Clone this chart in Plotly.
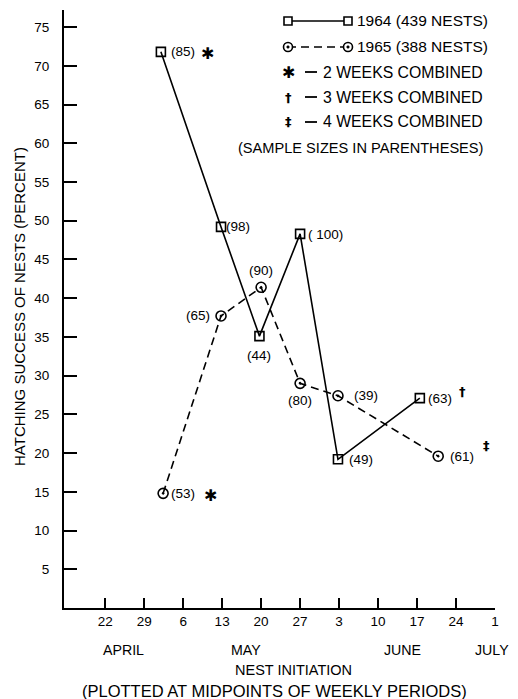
import plotly.graph_objects as go

# ---------------- data ----------------
tick_days = [22, 29, 36, 43, 50, 57, 64, 71, 78, 85, 92]   # days counted from 1 April
tick_labels = ["22", "29", "6", "13", "20", "27", "3", "10", "17", "24", "1"]
month_names = ["APRIL", "MAY", "JUNE", "JULY"]
month_days = [25.3, 47.3, 75.3, 91.4]
y_ticks = [5, 10, 15, 20, 25, 30, 35, 40, 45, 50, 55, 60, 65, 70, 75]

days_1964 = [32.0, 42.8, 49.7, 57.0, 63.8, 78.5]
succ_1964 = [71.8, 49.2, 35.1, 48.3, 19.2, 27.1]
n_1964 = ["(85)", "(98)", "(44)", "( 100)", "(49)", "(63)"]

days_1965 = [32.4, 42.8, 50.0, 57.0, 63.8, 81.8]
succ_1965 = [14.8, 37.7, 41.4, 29.0, 27.4, 19.6]
n_1965 = ["(53)", "(65)", "(90)", "(80)", "(39)", "(61)"]

legend_texts = ["1964 (439 NESTS)", "1965 (388 NESTS)", "2 WEEKS COMBINED",
                "3 WEEKS COMBINED", "4 WEEKS COMBINED", "(SAMPLE SIZES IN PARENTHESES)"]
legend_marks = ["\u2731", "\u2020", "\u2021"]

X_RANGE = [14.6, 92]
Y_RANGE = [0, 77.2]

# ---------------- layout helpers ----------------
OFF = 8                      # page body margin around the figure
W, H = 518 - OFF, 699 - OFF
L, R, T, B = 64 - OFF, 23, 10 - OFF, 91
PW, PH = W - L - R, H - T - B
FONT = "Liberation Sans, Arial, sans-serif"
SYM = "DejaVu Sans, " + FONT


def px(x):   # page pixel -> paper
    return (x - OFF - L) / PW


def py(y):
    return (H + OFF - B - y) / PH


def day_to_paper(d):
    return (d - X_RANGE[0]) / (X_RANGE[1] - X_RANGE[0])


fig = go.Figure()

fig.add_trace(go.Scatter(
    x=days_1964, y=succ_1964, mode="lines+markers", name="1964",
    line=dict(color="black", width=1.6),
    marker=dict(symbol="square-open", size=9, color="black", line=dict(width=1.6)),
    cliponaxis=False, showlegend=False))

fig.add_trace(go.Scatter(
    x=days_1965, y=succ_1965, mode="lines+markers", name="1965",
    line=dict(color="black", width=1.6, dash="8px,5px"),
    marker=dict(symbol="circle-open-dot", size=10, color="black", line=dict(width=1.6)),
    cliponaxis=False, showlegend=False))

ann = []
# sample size labels: (xanchor, xshift, yshift)
place_1964 = [("left", 8, 0), ("left", 3, 0), ("center", 0, -19),
              ("left", 6, -1), ("left", 9, 0), ("left", 6, 0)]
place_1965 = [("left", 6, 0), ("right", -9, 0), ("center", 0, 17),
              ("center", 0, -17), ("left", 14, 0), ("left", 10, 0)]
for xs, ys, labs, places in [(days_1964, succ_1964, n_1964, place_1964),
                             (days_1965, succ_1965, n_1965, place_1965)]:
    for x, y, t, (xa, dx, dy) in zip(xs, ys, labs, places):
        ann.append(dict(x=x, y=y, xref="x", yref="y", text=t, showarrow=False,
                        xanchor=xa, yanchor="middle", xshift=dx, yshift=dy,
                        font=dict(size=13.5, family=FONT, color="black")))

# footnote marks beside first / last points
marks = [(days_1964[0], succ_1964[0], legend_marks[0], 47, -2, 16),
         (days_1965[0], succ_1965[0], legend_marks[0], 47, -2, 16),
         (days_1964[-1], succ_1964[-1], legend_marks[1], 43, 7, 13),
         (days_1965[-1], succ_1965[-1], legend_marks[2], 48, 11, 13)]
for x, y, t, dx, dy, fs in marks:
    ann.append(dict(x=x, y=y, xref="x", yref="y", text="<b>" + t + "</b>", showarrow=False,
                    xanchor="center", yanchor="middle", xshift=dx, yshift=dy,
                    font=dict(size=fs, family=SYM, color="black")))

# month labels
for m, d in zip(month_names, month_days):
    ann.append(dict(x=day_to_paper(d), y=py(650), xref="paper", yref="paper", text=m,
                    showarrow=False, xanchor="center", yanchor="middle",
                    font=dict(size=14.2, family=FONT, color="black")))

# axis titles
ann.append(dict(x=px(293.5), y=py(670), xref="paper", yref="paper", text="NEST INITIATION",
                showarrow=False, xanchor="center", yanchor="middle",
                font=dict(size=14.5, family=FONT, color="black")))
ann.append(dict(x=px(274), y=py(691), xref="paper", yref="paper",
                text="(PLOTTED AT MIDPOINTS OF WEEKLY PERIODS)",
                showarrow=False, xanchor="center", yanchor="middle",
                font=dict(size=16.5, family=FONT, color="black")))
ann.append(dict(x=px(19), y=py(307), xref="paper", yref="paper",
                text="HATCHING SUCCESS OF NESTS (PERCENT)", textangle=-90,
                showarrow=False, xanchor="center", yanchor="middle",
                font=dict(size=15, family=FONT, color="black")))

# custom legend
shapes = []
leg_y = [21, 47, 72, 97, 122, 148]
lx0, lx1 = 288, 348
shapes.append(dict(type="line", xref="paper", yref="paper", x0=px(lx0), x1=px(lx1),
                   y0=py(leg_y[0]), y1=py(leg_y[0]), line=dict(color="black", width=1.6)))
shapes.append(dict(type="line", xref="paper", yref="paper", x0=px(lx0), x1=px(lx1),
                   y0=py(leg_y[1]), y1=py(leg_y[1]),
                   line=dict(color="black", width=1.6, dash="8px,5px")))
for cx in (lx0, lx1):
    shapes.append(dict(type="rect", xref="paper", yref="paper",
                       x0=px(cx - 4), x1=px(cx + 4), y0=py(leg_y[0] + 4), y1=py(leg_y[0] - 4),
                       line=dict(color="black", width=1.6), fillcolor="white"))
    shapes.append(dict(type="circle", xref="paper", yref="paper",
                       x0=px(cx - 4.5), x1=px(cx + 4.5), y0=py(leg_y[1] + 4.5), y1=py(leg_y[1] - 4.5),
                       line=dict(color="black", width=1.6), fillcolor="white"))
    shapes.append(dict(type="circle", xref="paper", yref="paper",
                       x0=px(cx - 1.3), x1=px(cx + 1.3), y0=py(leg_y[1] + 1.3), y1=py(leg_y[1] - 1.3),
                       line=dict(color="black", width=0.5), fillcolor="black"))
for i, t in enumerate(legend_texts[:2]):
    ann.append(dict(x=px(355), y=py(leg_y[i]), xref="paper", yref="paper", text=t,
                    showarrow=False, xanchor="left", yanchor="middle",
                    font=dict(size=15.5, family=FONT, color="black")))
for i, t in enumerate(legend_texts[2:5]):
    yy = leg_y[i + 2]
    ann.append(dict(x=px(321), y=py(yy), xref="paper", yref="paper", text=t,
                    showarrow=False, xanchor="left", yanchor="middle",
                    font=dict(size=15.8, family=FONT, color="black")))
    ann.append(dict(x=px(288), y=py(yy), xref="paper", yref="paper",
                    text="<b>" + legend_marks[i] + "</b>",
                    showarrow=False, xanchor="center", yanchor="middle",
                    font=dict(size=16 if i == 0 else 13, family=SYM, color="black")))
    shapes.append(dict(type="line", xref="paper", yref="paper", x0=px(305), x1=px(317),
                       y0=py(yy), y1=py(yy), line=dict(color="black", width=1.8)))
ann.append(dict(x=px(236), y=py(leg_y[5]), xref="paper", yref="paper", text=legend_texts[5],
                showarrow=False, xanchor="left", yanchor="middle",
                font=dict(size=14.6, family=FONT, color="black")))

fig.update_layout(
    width=W, height=H,
    margin=dict(l=L, r=R, t=T, b=B),
    paper_bgcolor="white", plot_bgcolor="white",
    font=dict(family=FONT, color="black", size=13),
    annotations=ann, shapes=shapes, showlegend=False,
    xaxis=dict(range=X_RANGE, tickvals=tick_days, ticktext=tick_labels,
               ticks="inside", ticklen=10, tickwidth=2, tickcolor="black",
               showline=True, linecolor="black", linewidth=2,
               showgrid=False, zeroline=False, fixedrange=True,
               tickfont=dict(size=13.5, family=FONT, color="black")),
    yaxis=dict(range=Y_RANGE, tickvals=y_ticks,
               ticks="inside", ticklen=13, tickwidth=2, tickcolor="black",
               showline=True, linecolor="black", linewidth=2,
               showgrid=False, zeroline=False, fixedrange=True,
               ticklabelstandoff=10,
               tickfont=dict(size=13.5, family=FONT, color="black")),
)

fig.write_html("out.html")
